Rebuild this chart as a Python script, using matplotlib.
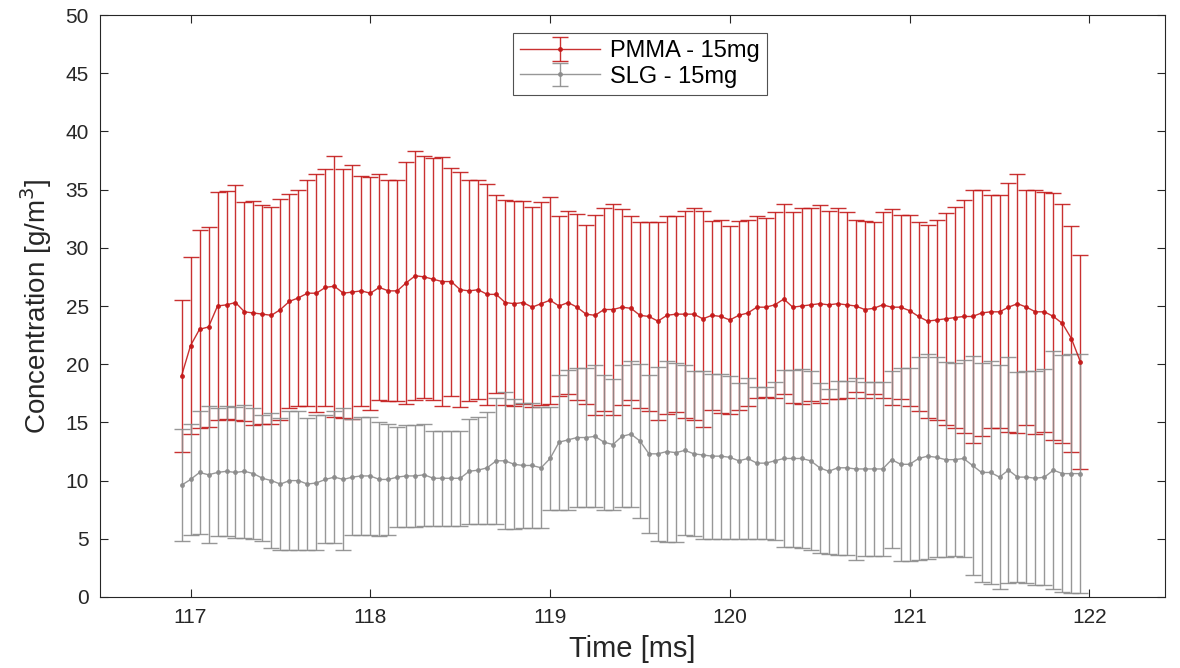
import numpy as np
import matplotlib
matplotlib.use("Agg")
import matplotlib.pyplot as plt

plt.rcParams['font.family'] = ['Liberation Sans', 'DejaVu Sans']

# time axis: 116.95 .. 121.95 ms, 0.05 ms step
t_start, t_step, n_pts = 116.95, 0.05, 101

pmma_mean = [19.0, 21.6, 23.0, 23.2, 25.0, 25.1, 25.3, 24.5, 24.4, 24.3,
             24.2, 24.7, 25.4, 25.7, 26.1, 26.1, 26.6, 26.7, 26.1, 26.2,
             26.3, 26.1, 26.6, 26.3, 26.3, 27.0, 27.6, 27.5, 27.3, 27.1,
             27.1, 26.4, 26.3, 26.4, 26.0, 26.0, 25.3, 25.2, 25.3, 24.9,
             25.2, 25.5, 25.0, 25.3, 24.9, 24.3, 24.2, 24.7, 24.7, 24.9,
             24.8, 24.2, 24.1, 23.7, 24.2, 24.3, 24.3, 24.3, 23.9, 24.2,
             24.1, 23.8, 24.2, 24.4, 24.9, 24.9, 25.1, 25.6, 24.9, 25.0,
             25.1, 25.2, 25.1, 25.2, 25.1, 25.0, 24.7, 24.8, 25.1, 24.9,
             24.9, 24.6, 24.1, 23.7, 23.8, 23.9, 24.0, 24.1, 24.1, 24.4,
             24.5, 24.5, 24.9, 25.2, 24.9, 24.5, 24.5, 24.1, 23.5, 22.2,
             20.2]
pmma_std = [6.5, 7.6, 8.5, 8.6, 9.8, 9.8, 10.1, 9.4, 9.6, 9.4,
            9.3, 9.5, 9.2, 9.3, 9.7, 10.2, 10.2, 11.2, 10.7, 10.9,
            9.9, 10.0, 9.7, 9.5, 9.5, 10.4, 10.7, 10.4, 10.4, 10.7,
            9.8, 10.1, 9.5, 9.4, 9.5, 8.5, 8.8, 8.8, 8.7, 8.6,
            8.7, 8.9, 7.7, 7.9, 8.0, 7.7, 8.6, 8.7, 9.1, 8.4,
            7.9, 8.0, 8.1, 8.5, 8.5, 8.4, 8.9, 9.1, 9.3, 8.1,
            8.3, 8.1, 8.1, 8.0, 7.8, 7.7, 8.0, 8.2, 8.2, 8.4,
            8.3, 8.5, 8.1, 8.2, 8.0, 7.4, 7.6, 7.4, 8.0, 8.4,
            7.9, 8.2, 8.1, 8.3, 8.6, 9.1, 9.5, 10.0, 10.9, 10.6,
            10.0, 10.0, 10.7, 11.1, 10.1, 10.5, 10.3, 10.6, 10.3, 9.7,
            9.2]

slg_mean = [9.6, 10.1, 10.7, 10.5, 10.7, 10.8, 10.7, 10.8, 10.6, 10.2,
            10.0, 9.7, 10.0, 10.0, 9.7, 9.8, 10.1, 10.3, 10.1, 10.3,
            10.4, 10.4, 10.1, 10.1, 10.3, 10.4, 10.4, 10.5, 10.2, 10.2,
            10.2, 10.2, 10.8, 10.9, 11.1, 11.7, 11.7, 11.4, 11.3, 11.3,
            11.1, 11.9, 13.3, 13.5, 13.7, 13.7, 13.8, 13.3, 13.1, 13.8,
            14.0, 13.4, 12.3, 12.3, 12.5, 12.4, 12.6, 12.3, 12.2, 12.1,
            12.1, 12.0, 11.7, 11.9, 11.5, 11.5, 11.7, 11.9, 11.9, 11.9,
            11.7, 11.1, 10.8, 11.1, 11.1, 11.0, 11.0, 11.0, 11.0, 11.8,
            11.4, 11.4, 11.9, 12.1, 12.0, 11.8, 11.8, 11.9, 11.3, 10.7,
            10.7, 10.3, 10.9, 10.3, 10.3, 10.2, 10.3, 10.9, 10.6, 10.6,
            10.6]
slg_std = [4.8, 4.8, 5.3, 5.9, 5.5, 5.6, 5.6, 5.7, 5.6, 5.4,
           5.8, 5.7, 6.0, 6.0, 5.7, 5.8, 5.5, 5.7, 6.1, 5.0,
           5.1, 5.1, 4.9, 4.8, 4.3, 4.4, 4.4, 4.4, 4.1, 4.1,
           4.1, 4.1, 4.5, 4.6, 4.8, 5.4, 5.9, 5.6, 5.4, 5.4,
           5.2, 4.4, 5.8, 6.0, 6.0, 6.0, 6.1, 5.8, 5.6, 6.1,
           6.3, 6.6, 6.8, 7.5, 7.8, 7.7, 7.3, 7.1, 7.2, 7.1,
           7.1, 7.0, 6.7, 6.9, 6.5, 6.5, 6.8, 7.6, 7.6, 7.7,
           7.7, 7.3, 7.1, 7.5, 7.5, 7.8, 7.5, 7.5, 7.5, 7.6,
           8.3, 8.3, 8.7, 8.8, 8.6, 8.4, 8.3, 8.5, 9.4, 9.4,
           9.6, 9.6, 9.7, 9.0, 9.1, 9.2, 9.3, 10.2, 10.2, 10.3,
           10.3]

t = t_start + t_step * np.arange(n_pts)

red = '#c41a1a'
grey = '#8c8c8c'

fig = plt.figure(figsize=(11.8, 6.68), dpi=100)
ax = fig.add_axes([0.0847, 0.1063, 0.9025, 0.8712])

ax.errorbar(t, pmma_mean, yerr=pmma_std, color=red, marker='.', markersize=5,
            linewidth=1.0, elinewidth=1.0, capsize=6, capthick=1.0,
            label='PMMA - 15mg', alpha=0.9)
ax.errorbar(t, slg_mean, yerr=slg_std, color=grey, marker='.', markersize=5,
            linewidth=1.0, elinewidth=1.0, capsize=6, capthick=1.0,
            label='SLG - 15mg', alpha=0.9)

ax.set_xlim(116.496, 122.42)
ax.set_ylim(0, 50)
ax.set_xticks([117, 118, 119, 120, 121, 122])
ax.set_yticks(np.arange(0, 51, 5))
ax.tick_params(direction='in', length=6, width=0.8, labelsize=15,
               top=True, right=True, colors='#262626', pad=8)
for s in ax.spines.values():
    s.set_color('#262626')
    s.set_linewidth(0.8)

ax.set_xlabel('Time [ms]', fontsize=21, color='#262626', labelpad=6)
ax.set_ylabel('Concentration [g/m$^3$]', fontsize=20, color='#262626', labelpad=8)

leg = ax.legend(loc='upper center', bbox_to_anchor=(0.507, 0.969), fontsize=17,
                frameon=True, fancybox=False, edgecolor='#262626',
                handlelength=3.4, handletextpad=0.4, borderpad=0.3,
                labelspacing=0.15, borderaxespad=0)
leg.get_frame().set_linewidth(0.8)

fig.savefig('out.png', dpi=100)
